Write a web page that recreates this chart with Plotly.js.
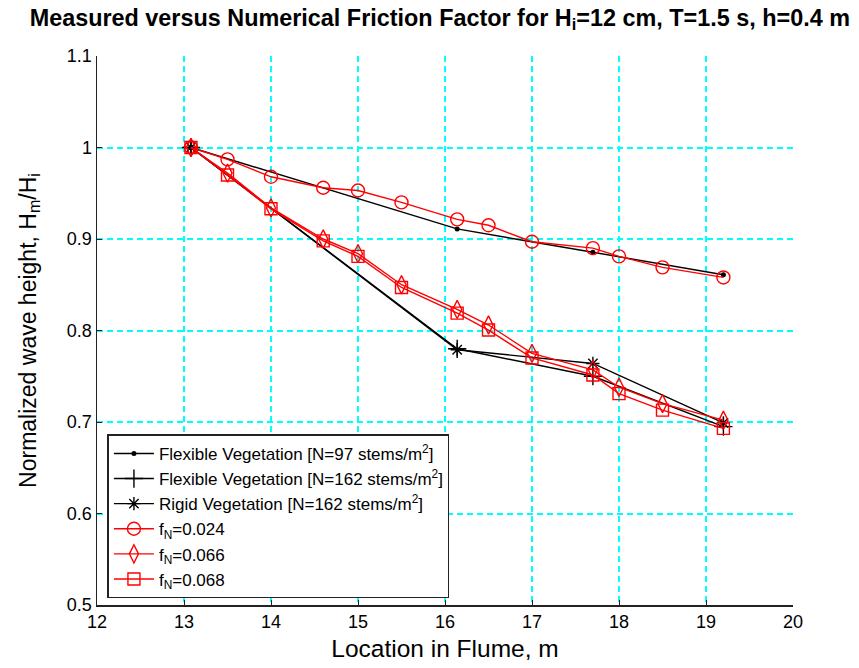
<!DOCTYPE html>
<html>
<head>
<meta charset="utf-8">
<script src="https://cdn.plot.ly/plotly-3.0.1.min.js"></script>
<style>
  html, body { margin: 0; padding: 0; background: #fff; }
  #chart { width: 859px; height: 668px; }
</style>
</head>
<body>
<div id="chart"></div>
<script>
// Measurement stations along the flume (m)
const stationX = [13.08, 16.14, 17.7, 19.2];

// Measured normalized wave heights Hm/Hi
const flex97 = [1.0, 0.911, 0.8855, 0.861];
const flex162 = [1.0, 0.780, 0.750, 0.695];
const rigid162 = [1.0, 0.779, 0.764, 0.699];

// Numerical model locations (m)
const modelX = [13.08, 13.5, 14.0, 14.6, 15.0, 15.5, 16.14, 16.5, 17.0, 17.7, 18.0, 18.5, 19.2];

// Numerical results for each friction factor
const fN024 = [1.0, 0.987, 0.968, 0.956, 0.953, 0.940, 0.9215, 0.915, 0.897, 0.890, 0.881, 0.869, 0.858];
const fN066 = [1.0, 0.972, 0.934, 0.900, 0.884, 0.850, 0.823, 0.806, 0.775, 0.757, 0.738, 0.720, 0.702];
const fN068 = [1.0, 0.970, 0.933, 0.898, 0.881, 0.847, 0.819, 0.8005, 0.770, 0.7514, 0.731, 0.713, 0.693];

const names = [
  'Flexible Vegetation [N=97 stems/m<sup>2</sup>]',
  'Flexible Vegetation [N=162 stems/m<sup>2</sup>]',
  'Rigid Vegetation [N=162 stems/m<sup>2</sup>]',
  'f<sub>N</sub>=0.024',
  'f<sub>N</sub>=0.066',
  'f<sub>N</sub>=0.068'
];

const black = '#000000';
const red = '#ff0000';

const traces = [
  { x: stationX, y: flex97, name: names[0], mode: 'lines+markers',
    line: { color: black, width: 1.4 },
    marker: { symbol: 'circle', size: 5, color: black } },
  { x: stationX, y: flex162, name: names[1], mode: 'lines+markers',
    line: { color: black, width: 1.4 },
    marker: { symbol: 'cross-thin-open', size: 13, color: black, line: { color: black, width: 1.4 } } },
  { x: stationX, y: rigid162, name: names[2], mode: 'lines+markers',
    line: { color: black, width: 1.4 },
    marker: { symbol: 'asterisk-open', size: 11, color: black, line: { color: black, width: 1.4 } } },
  { x: modelX, y: fN024, name: names[3], mode: 'lines+markers',
    line: { color: red, width: 1.4 },
    marker: { symbol: 'circle-open', size: 13, color: red, line: { color: red, width: 1.4 } } },
  { x: modelX, y: fN066, name: names[4], mode: 'lines+markers',
    line: { color: red, width: 1.4 },
    marker: { symbol: 'diamond-tall-open', size: 13, color: red, line: { color: red, width: 1.4 } } },
  { x: modelX, y: fN068, name: names[5], mode: 'lines+markers',
    line: { color: red, width: 1.4 },
    marker: { symbol: 'square-open', size: 12, color: red, line: { color: red, width: 1.4 } } }
];

const sans = 'Arial, "Liberation Sans", sans-serif';
const tickFont = { family: sans, size: 18, color: '#000' };

const layout = {
  width: 859,
  height: 668,
  paper_bgcolor: '#ffffff',
  plot_bgcolor: '#ffffff',
  margin: { l: 97, r: 66, t: 56, b: 63 },
  title: {
    text: 'Measured versus Numerical Friction Factor for H<sub>i</sub>=12 cm, T=1.5 s, h=0.4 m',
    font: { family: sans, size: 23.4, color: '#000', weight: 'bold' },
    x: 0.512, xanchor: 'center', y: 0.974, yanchor: 'middle'
  },
  xaxis: {
    range: [12, 20],
    tickvals: [12, 13, 14, 15, 16, 17, 18, 19, 20],
    ticks: 'inside', ticklen: 5, tickcolor: '#222',
    showline: true, linecolor: '#222', linewidth: 1.5, mirror: false,
    showgrid: true, gridcolor: '#00ffff', griddash: '6px,4px', gridwidth: 2,
    zeroline: false,
    tickfont: tickFont,
    title: { text: 'Location in Flume, m', font: { family: sans, size: 24.5, color: '#000' }, standoff: 9 }
  },
  yaxis: {
    range: [0.5, 1.1],
    tickvals: [0.5, 0.6, 0.7, 0.8, 0.9, 1.0, 1.1],
    ticktext: ['0.5', '0.6', '0.7', '0.8', '0.9', '1', '1.1'],
    ticks: 'inside', ticklen: 5, tickcolor: '#222',
    showline: true, linecolor: '#222', linewidth: 1.5, mirror: false,
    showgrid: true, gridcolor: '#00ffff', griddash: '6px,4px', gridwidth: 2,
    zeroline: false,
    tickfont: tickFont,
    title: { text: 'Normalized wave height, H<sub>m</sub>/H<sub>i</sub>', font: { family: sans, size: 23, color: '#000' }, standoff: 24 }
  },
  legend: {
    x: 0.015, y: 0.012, xanchor: 'left', yanchor: 'bottom',
    bgcolor: '#ffffff', bordercolor: '#222', borderwidth: 1.5,
    font: { family: sans, size: 17, color: '#000' },
    tracegroupgap: 0, itemwidth: 40
  },
  showlegend: true
};

Plotly.newPlot('chart', traces, layout, { displayModeBar: false, staticPlot: true });
</script>
</body>
</html>
